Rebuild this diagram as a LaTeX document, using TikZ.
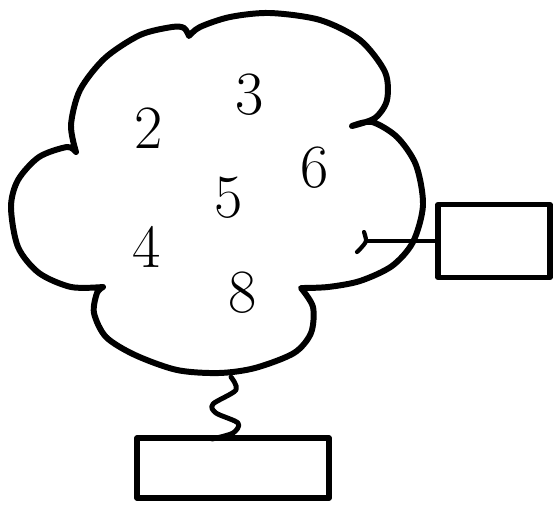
\documentclass[tikz,border=0pt]{standalone}
\usepackage{tikz}
\definecolor{inkblack}{HTML}{000000}
\tikzset{every node/.append style={font=\rmfamily}}

\begin{document}
\begin{tikzpicture}[x=0.02cm,y=-0.02cm,line cap=round,line join=round,
  cloudline/.style={inkblack,line width=3.4pt},
  boxline/.style={draw=inkblack,line width=3pt,inner sep=0pt},
  wireline/.style={inkblack,line width=1.8pt},
  digit/.style={inkblack,font=\fontsize{35}{35}\selectfont}]
\useasboundingbox (0,0) rectangle (555,505);
% the cloud, one bump at a time
\draw[cloudline] plot[smooth] coordinates {(76,152) (71,125) (80,90) (105,58) (140,35) (172,27) (184,28) (189,36)}
  -- plot[smooth] coordinates {(189,36) (200,27) (230,17) (270,13) (320,20) (360,40) (385,72) (387,100) (375,118) (352,126)}
  -- plot[smooth] coordinates {(352,126) (372,122) (397,137) (416,165) (423,205) (413,242) (392,266) (360,281) (328,287) (301,288)}
  -- plot[smooth] coordinates {(301,288) (313,307) (311,333) (294,353) (255,368) (219,373) (177,370) (135,355) (106,337) (94,313) (97,293) (103,287)}
  -- plot[smooth] coordinates {(103,287) (71,287) (39,273) (18,247) (11,207) (18,180) (39,157) (67,147) (76,152)};
\node[digit] (n3) at (250,95) {3};
\node[digit] (n2) at (149,128) {2};
\node[digit] (n6) at (315,168) {6};
\node[digit] (n5) at (229,198) {5};
\node[digit] (n4) at (147,247) {4};
\node[digit] (n8) at (243,293) {8};
% boxes
\node[boxline,minimum width=2.24cm,minimum height=1.46cm] (rbox) at (494,241) {};
\node[boxline,minimum width=3.84cm,minimum height=1.2cm] (bbox) at (233,468) {};
% hook and wire to the right box
\coordinate (hook) at (366,241);
\draw[wireline,line width=2.4pt] plot[smooth] coordinates {(364,232) (366,241) (361,248) (357,252)};
\draw[wireline] (hook) -- (rbox.west);
% spring down to the lower box
\coordinate (springtop) at (231,377);
\coordinate (springfoot) at (212,439);
\draw[cloudline,line width=2.8pt] plot[smooth] coordinates {(springtop) (236,390) (213,404) (216,413) (238,423) (233,433) (springfoot)};
\end{tikzpicture}
\end{document}
